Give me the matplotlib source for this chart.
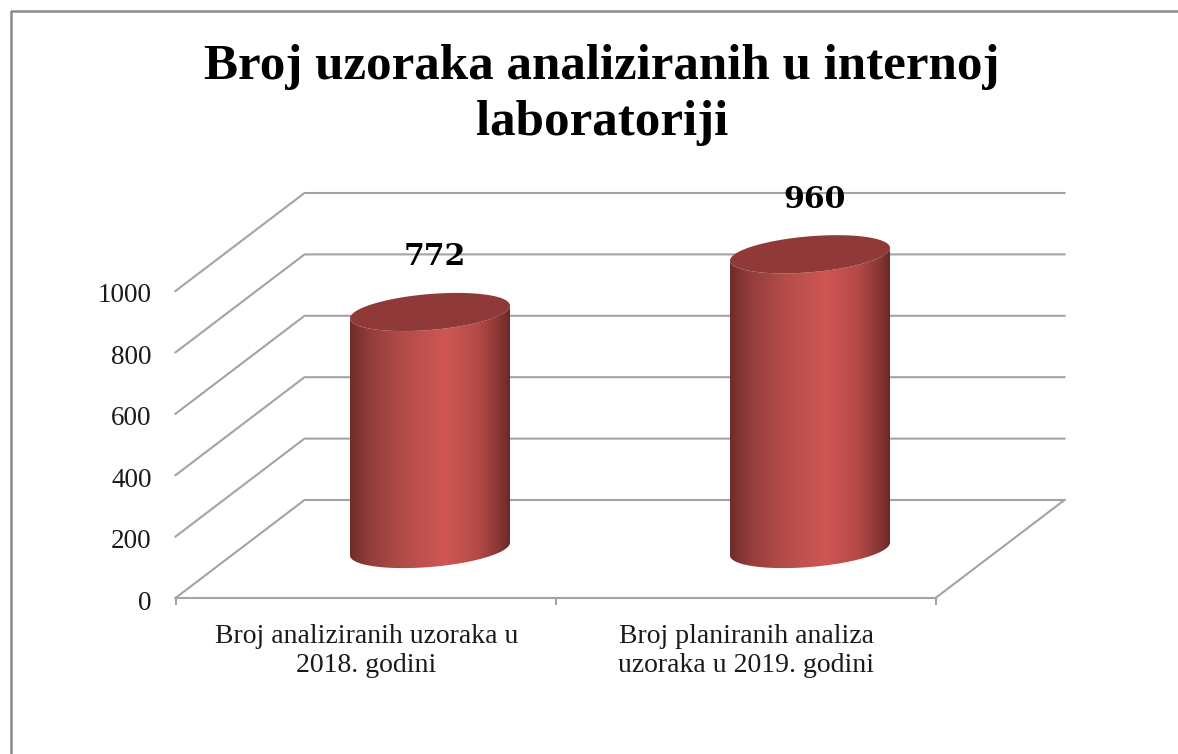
import numpy as np
import matplotlib
matplotlib.use("Agg")
import matplotlib.pyplot as plt
from matplotlib.colors import LinearSegmentedColormap
from matplotlib.patches import Polygon

categories = ["Broj analiziranih uzoraka u\n2018. godini",
              "Broj planiranih analiza\nuzoraka u 2019. godini"]
values = [772, 960]
y_ticks = [0, 200, 400, 600, 800, 1000]
title = "Broj uzoraka analiziranih u internoj\nlaboratoriji"

W, H = 1178, 754
PX_X = 380.0    # pixels per category
PX_Y = 0.307    # pixels per unit
X0, Y0 = 430, 549  # pixel of category 0, value 0 at mid depth
DX, DY = 64.5, 49  # half depth of the 3d box
R, B, K = 80, 18, 0.08  # cylinder radius, ellipse height, ellipse slope

plt.rcParams["font.family"] = ["Liberation Serif", "DejaVu Serif"]

fig = plt.figure(figsize=(W / 100, H / 100), dpi=100)
ax = fig.add_axes([0, 0, 1, 1])
ax.axis("off")

dx = DX / PX_X
dy = DY / PX_Y
grey = "#a3a3a3"

# frame round the chart
fig.add_artist(plt.Line2D([11 / W, 11 / W, 1], [0, 1 - 11 / H, 1 - 11 / H],
                          transform=fig.transFigure, color="#8c8c8c", lw=1.8))

# floor and walls
left, right = -0.5, len(values) - 0.5
for v in y_ticks:
    ax.plot([left - dx, left + dx, right + dx],
            [v - dy, v + dy, v + dy], color=grey, lw=1.5, zorder=1)
ax.plot([left - dx, right - dx, right + dx],
        [-dy, -dy, dy], color=grey, lw=1.5, zorder=1)

# ticks
tick_len = 6 / PX_Y
for c in np.arange(left, right + 0.5):
    ax.plot([c - dx, c - dx], [-dy - tick_len, -dy], color=grey, lw=1.5, zorder=1)
for v in y_ticks:
    ax.text(left - dx - 24 / PX_X, v - dy - 5 / PX_Y, str(v), ha="right", va="center",
            fontsize=19.5, color="#1a1a1a")
for i, label in enumerate(categories):
    ax.text(i - dx + 1 / PX_X, -dy - 26 / PX_Y, label, ha="center", va="top", fontsize=20,
            color="#1a1a1a", linespacing=1.23)

# cylinders
shade = LinearSegmentedColormap.from_list("shade", [
    (0.0, "#6f2c2a"), (0.12, "#933d3a"), (0.35, "#b54d49"),
    (0.6, "#cf5653"), (0.8, "#b54a47"), (0.93, "#8a3735"), (1.0, "#6a2927")])
t = np.linspace(0, 2 * np.pi, 200)
ex = R * np.cos(t) / PX_X
ey = (B * np.sin(t) + K * R * np.cos(t)) / PX_Y

for i, v in enumerate(values):
    half = np.linspace(np.pi, 2 * np.pi, 100)
    bx = R * np.cos(half) / PX_X
    by = (B * np.sin(half) + K * R * np.cos(half)) / PX_Y
    body = np.column_stack([np.r_[i + bx, i + bx[::-1]], np.r_[by, v + by[::-1]]])
    patch = Polygon(body, closed=True, fc="none", ec="none", transform=ax.transData)
    ax.add_patch(patch)
    im = ax.imshow(np.linspace(0, 1, 256).reshape(1, -1), cmap=shade, aspect="auto",
                   extent=[i - R / PX_X, i + R / PX_X, -100, v + 100], zorder=3)
    im.set_clip_path(patch)
    ax.add_patch(Polygon(np.column_stack([i + ex, v + ey]), closed=True,
                         fc="#8f3a38", ec="none", zorder=4))
    ax.text(i + 5 / PX_X, v + 55 / PX_Y, str(v), ha="center", va="center",
            fontsize=21.5, fontweight="bold", color="black", zorder=5,
            family=["DejaVu Serif"])

ax.set_xlim(-X0 / PX_X, (W - X0) / PX_X)
ax.set_ylim(-(H - Y0) / PX_Y, Y0 / PX_Y)

fig.text(602 / W, 1 - 95 / H, title, ha="center", va="center", fontsize=36.7,
         fontweight="bold", color="black", linespacing=1.3)

fig.savefig("out.png", dpi=100)
